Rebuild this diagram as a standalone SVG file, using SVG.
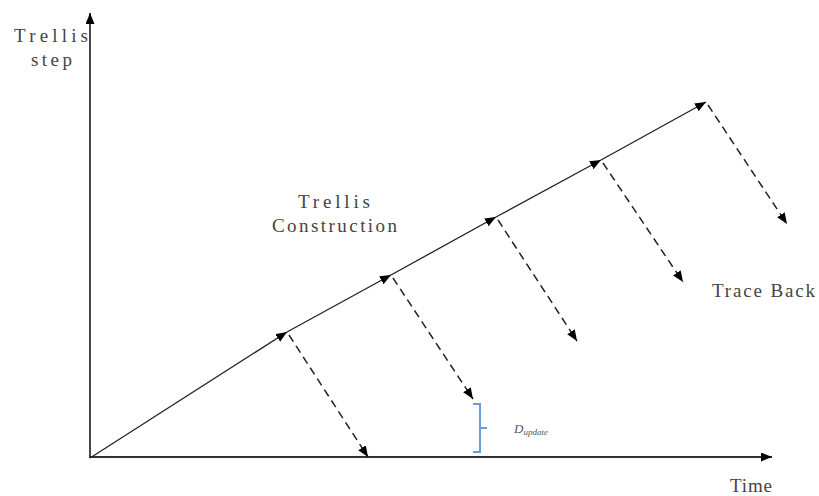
<svg xmlns="http://www.w3.org/2000/svg" width="819" height="496" viewBox="0 0 819 496">
<defs>
<marker id="ah" markerUnits="userSpaceOnUse" markerWidth="12" markerHeight="10" refX="11" refY="4.5" orient="auto">
<path d="M0,0 L11,4.5 L0,9 Z" fill="#000"/>
</marker>
</defs>
<style>
.axis{stroke:#333;stroke-width:1.8;fill:none}
.solid{stroke:#222;stroke-width:1.3;fill:none}
.dash{stroke:#222;stroke-width:1.5;fill:none;stroke-dasharray:8 5}
.lbl{font-family:"Liberation Serif",serif;font-size:19px;fill:#444}
.brk{stroke:#6a9bd8;stroke-width:2;fill:none}
.math{font-family:"Liberation Serif",serif;font-style:italic;fill:#555}
</style>
<rect width="819" height="496" fill="#fff"/>
<g id="axes">
<line class="axis" x1="90" y1="458" x2="90" y2="13" marker-end="url(#ah)"/>
<line class="axis" x1="89" y1="457" x2="772" y2="457" marker-end="url(#ah)"/>
</g>
<g id="connectors">
<line class="solid" x1="90" y1="458" x2="287" y2="332" marker-end="url(#ah)"/>
<line class="solid" x1="287" y1="332" x2="391" y2="275" marker-end="url(#ah)"/>
<line class="solid" x1="391" y1="275" x2="496" y2="217" marker-end="url(#ah)"/>
<line class="solid" x1="496" y1="217" x2="601" y2="160" marker-end="url(#ah)"/>
<line class="solid" x1="601" y1="160" x2="706" y2="102" marker-end="url(#ah)"/>
<line class="dash" x1="289" y1="335" x2="368" y2="457" marker-end="url(#ah)"/>
<line class="dash" x1="393" y1="278" x2="473" y2="399" marker-end="url(#ah)"/>
<line class="dash" x1="498" y1="220" x2="577" y2="341" marker-end="url(#ah)"/>
<line class="dash" x1="603" y1="163" x2="683" y2="282" marker-end="url(#ah)"/>
<line class="dash" x1="708" y1="105" x2="787" y2="224" marker-end="url(#ah)"/>
</g>
<g id="bracket">
<path class="brk" d="M473,404 H480 V452 H473 M480,428 H487"/>
<text class="math" x="514" y="433" font-size="13">D<tspan font-size="9" dy="2">update</tspan></text>
</g>
<g id="labels">
<text class="lbl" x="14" y="42" textLength="74">Trellis</text>
<text class="lbl" x="31" y="66" textLength="41">step</text>
<text class="lbl" x="298" y="208" textLength="72">Trellis</text>
<text class="lbl" x="272" y="232" textLength="125">Construction</text>
<text class="lbl" x="712" y="297" textLength="103">Trace Back</text>
<text class="lbl" x="730" y="492" textLength="42">Time</text>
</g>
</svg>
